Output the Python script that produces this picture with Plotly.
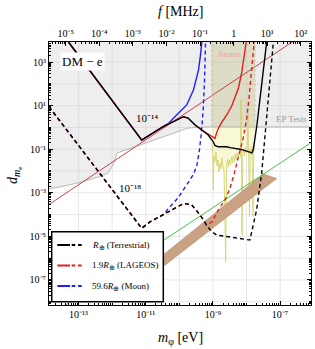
import numpy as np
import plotly.graph_objects as go

# ---------------- data (log10 values) ----------------
H_EV_PER_MHZ = 4.135667e-9          # eV per MHz  (E = h f)
LOG_F_SHIFT = -np.log10(H_EV_PER_MHZ)

X_RANGE = [-13.88, -6.08]           # log10 m_phi [eV]
Y_RANGE = [-8.15, 3.92]             # log10 d_me
TOP = 4.5

# R_earth (Terrestrial), 1e-14 solid
terr_solid_lm = [-13.30, -11.12, -10.49, -10.13, -9.98, -9.88, -9.74, -9.53, -9.33, -9.14, -8.99, -8.94,
                 -8.84, -8.59, -8.49, -8.19, -7.95, -7.84, -7.80, -7.75, -7.69, -7.62, -7.55, -7.47, -7.40]
terr_solid_ld = [3.92, -0.58, 0.03, 0.31, 0.45, 0.49, 0.43, 0.11, -0.12, -0.35, -0.66, -0.83,
                 -0.89, -0.89, -0.93, -1.00, -1.11, -1.17, -1.04, -0.58, 0.11, 1.03, 1.94, 3.00, 3.92]
# 1.9 R_earth (LAGEOS) solid
lag_solid_lm = [-13.30, -11.12, -10.49, -10.13, -9.98, -9.88, -9.74, -9.53, -9.33, -9.18, -9.06, -8.97,
                -8.94, -8.89, -8.84, -8.73, -8.59, -8.44, -8.34, -8.24, -8.14, -8.07, -8.01]
lag_solid_ld = [3.92, -0.58, 0.03, 0.31, 0.45, 0.49, 0.43, 0.11, -0.12, -0.28, -0.39, -0.49,
                -0.50, -0.26, -0.05, 0.25, 0.57, 0.98, 1.39, 1.81, 2.54, 3.23, 3.92]
# 59.6 R_earth (Moon) solid
moon_solid_lm = [-13.30, -11.12, -10.49, -10.33, -10.08, -9.78, -9.58, -9.49, -9.43, -9.37, -9.33]
moon_solid_ld = [3.92, -0.58, 0.04, 0.17, 0.57, 1.03, 1.72, 2.27, 2.63, 3.32, 3.92]

# 1e-18 dashed
terr_dash_lm = [-13.88, -11.12, -10.87, -10.49, -10.13, -9.98, -9.88, -9.80, -9.63, -9.38, -9.24, -9.19,
                -9.04, -8.89, -8.49, -7.90, -7.80, -7.70, -7.55, -7.45, -7.33, -7.20]
terr_dash_ld = [0.95, -4.63, -4.33, -4.00, -3.70, -3.56, -3.50, -3.50, -3.56, -4.02, -4.40, -4.48,
                -4.78, -4.94, -5.03, -5.17, -4.48, -3.79, -2.11, -0.35, 1.72, 3.92]
lag_dash_lm = [-13.88, -11.12, -10.87, -10.49, -10.13, -9.98, -9.88, -9.80, -9.63, -9.38, -9.24, -9.19,
               -9.03, -8.84, -8.64, -8.49, -8.37, -8.24, -8.10, -8.00, -7.93, -7.85, -7.77]
lag_dash_ld = [0.95, -4.63, -4.33, -4.00, -3.70, -3.56, -3.50, -3.50, -3.56, -4.02, -4.40, -4.48,
               -4.34, -3.79, -3.33, -2.78, -2.14, -1.40, -0.49, 0.34, 1.26, 2.63, 3.92]
moon_dash_lm = [-13.88, -11.12, -10.87, -10.49, -10.28, -10.04, -9.88, -9.71, -9.59, -9.48, -9.41, -9.35,
                -9.29, -9.25, -9.22]
moon_dash_ld = [0.95, -4.63, -4.33, -4.02, -3.64, -3.24, -2.87, -2.50, -2.18, -1.77, -1.13, -0.35,
                0.80, 2.17, 3.92]

# EP tests boundary (grey excluded region above)
ep_lm = [-13.88, -13.01, -12.42, -12.12, -11.97, -11.85, -11.77, -10.13, -9.74, -9.24, -6.08]
ep_ld = [-2.83, -2.55, -2.28, -2.09, -1.72, -1.17, -1.13, -0.26, -0.03, 0.02, 0.02]

# Atom-clock band (frequency edges in MHz) and its noisy bound
atom_f_mhz = [0.222, 4.33]
atom_lm = [-9.04, -9.01, -8.99, -8.97, -8.94, -8.91, -8.88, -8.85, -8.82, -8.79, -8.76, -8.73, -8.70, -8.67,
           -8.62, -8.59, -8.56, -8.54, -8.51, -8.48, -8.45, -8.42, -8.39, -8.36, -8.33, -8.30, -8.27, -8.24,
           -8.21, -8.18, -8.164, -8.149, -8.134, -8.113, -8.089, -8.060, -8.030, -8.000, -7.976, -7.955,
           -7.935, -7.911, -7.887, -7.860, -7.836, -7.807, -7.783, -7.762, -7.747]
atom_ld = [-0.72, -1.04, -2.87, -1.31, -1.59, -1.13, -1.77, -1.50, -2.05, -1.63, -1.91, -1.40, -1.82, -2.00,
           -6.17, -1.72, -1.45, -1.82, -1.50, -1.72, -1.36, -1.63, -1.31, -1.59, -1.22, -1.50, -1.17, -1.40,
           -1.13, -1.36, 1.26, -1.13, -4.94, -1.22, -0.99, -1.31, -0.90, -1.17, -1.04, 0.66,
           -1.13, -4.11, -0.99, -1.27, -0.90, -4.06, -1.04, -0.85, -0.62]

# brown band (upper edge, then lower edge)
brown_up_lm = [-10.90, -7.50]
brown_up_ld = [-6.37, -2.14]
brown_lo_lm = [-7.10, -10.90]
brown_lo_ld = [-2.34, -6.89]

# straight power-law lines: log d = slope*log m + intercept
red_line = dict(lm=[-13.88, -6.08], slope=1.03, icpt=10.76)
green_line = dict(lm=[-13.88, -6.08], slope=1.02, icpt=5.50)

# tick labels
y_tick_exp = [3, 1, -1, -3, -5, -7]
y_grid_exp = list(range(-8, 4))
x_tick_exp = [-13, -11, -9, -7]
x_grid_exp = list(range(-13, -6))
f_tick_exp = list(range(-5, 3))

SUB9 = '<span style="font-size:6.5px;baseline-shift:-2px">⊕</span>'
legend_labels = ["<i>R</i>" + SUB9 + " (Terrestrial)",
                 "1.9<i>R</i>" + SUB9 + " (LAGEOS)",
                 "59.6<i>R</i>" + SUB9 + " (Moon)"]
legend_colors = ["#000000", "#e61e1e", "#1f1fff"]

# ---------------- figure ----------------
P = lambda a: 10 ** np.asarray(a, dtype=float)
FONT = "Liberation Serif"
BLACK, RED, BLUE = legend_colors
DASH = "4px,3px"
GRID = "#dedede"

fig = go.Figure()

# grid lines at every decade (drawn below the data)
for k in x_grid_exp:
    fig.add_shape(type="line", xref="x", yref="paper", x0=10.0 ** k, x1=10.0 ** k, y0=0, y1=1,
                  line=dict(color=GRID, width=0.7), layer="below")
for k in y_grid_exp:
    fig.add_shape(type="line", xref="paper", yref="y", x0=0, x1=1, y0=10.0 ** k, y1=10.0 ** k,
                  line=dict(color=GRID, width=0.7), layer="below")

# grey excluded region (EP tests)
fig.add_trace(go.Scatter(
    x=P(ep_lm + [ep_lm[-1], ep_lm[0]]), y=P(ep_ld + [TOP, TOP]),
    fill="toself", fillcolor="rgba(200,200,200,0.30)", line=dict(width=0), mode="lines",
    hoverinfo="skip"))

a_lo = np.log10(atom_f_mhz[0] * H_EV_PER_MHZ)
a_hi = np.log10(atom_f_mhz[1] * H_EV_PER_MHZ)
ep_at_band = ep_ld[-1]
# band above EP boundary
fig.add_trace(go.Scatter(
    x=P([a_lo, a_hi, a_hi, a_lo]), y=P([ep_at_band, ep_at_band, TOP, TOP]),
    fill="toself", fillcolor="rgba(180,180,110,0.30)", line=dict(width=0), mode="lines",
    hoverinfo="skip"))
# band between noisy bound and EP boundary
fig.add_trace(go.Scatter(
    x=P(atom_lm + [atom_lm[-1], atom_lm[0]]), y=P(atom_ld + [ep_at_band, ep_at_band]),
    fill="toself", fillcolor="rgba(235,235,140,0.35)", line=dict(width=0), mode="lines",
    hoverinfo="skip"))

# EP boundary line
fig.add_trace(go.Scatter(x=P(ep_lm), y=P(ep_ld), mode="lines",
                         line=dict(color="#a8a8a8", width=0.8), hoverinfo="skip"))
# noisy atom line
fig.add_trace(go.Scatter(x=P(atom_lm), y=P(atom_ld), mode="lines",
                         line=dict(color="#cfcf66", width=0.8), hoverinfo="skip"))
# band edges (on the frequency axis)
for fe in atom_f_mhz:
    fig.add_trace(go.Scatter(x=[fe, fe], y=P([ep_at_band, TOP]), mode="lines", xaxis="x2",
                             line=dict(color="#c8c890", width=0.8, dash="3px,2px"), hoverinfo="skip"))

# brown band
fig.add_trace(go.Scatter(
    x=P(brown_up_lm + brown_lo_lm), y=P(brown_up_ld + brown_lo_ld),
    fill="toself", fillcolor="#c9a283", line=dict(color="#b89070", width=0.6), mode="lines",
    hoverinfo="skip"))

# straight lines
for ln, col in ((green_line, "#33bb33"), (red_line, "#c43030")):
    lm = np.array(ln["lm"])
    fig.add_trace(go.Scatter(x=P(lm), y=P(ln["slope"] * lm + ln["icpt"]), mode="lines",
                             line=dict(color=col, width=0.9), hoverinfo="skip"))

# dashed curves
for lm, ld, col in ((moon_dash_lm, moon_dash_ld, BLUE), (lag_dash_lm, lag_dash_ld, RED),
                    (terr_dash_lm, terr_dash_ld, BLACK)):
    fig.add_trace(go.Scatter(x=P(lm), y=P(ld), mode="lines",
                             line=dict(color=col, width=1.4, dash=DASH), hoverinfo="skip"))
# solid curves
for lm, ld, col in ((moon_solid_lm, moon_solid_ld, BLUE), (lag_solid_lm, lag_solid_ld, RED),
                    (terr_solid_lm, terr_solid_ld, BLACK)):
    fig.add_trace(go.Scatter(x=P(lm), y=P(ld), mode="lines",
                             line=dict(color=col, width=1.4), hoverinfo="skip"))

# ---------------- axes ----------------
SUP = str.maketrans("-0123456789", "⁻⁰¹²³⁴⁵⁶⁷⁸⁹")

def sup(k):
    if k == 0:
        return "1"
    return "10" + str(k).translate(SUP)

def minors(lo, hi, labelled):
    vals = [m * 10.0 ** k for k in range(lo, hi) for m in range(2, 10)]
    vals += [10.0 ** k for k in range(lo, hi) if k not in labelled]
    return sorted(vals)

tickfont = dict(family=FONT, size=10, color="black")
common = dict(type="log", ticks="inside", ticklen=4, tickwidth=0.8, tickcolor="black",
              showline=True, linecolor="black", linewidth=1, zeroline=False, tickfont=tickfont,
              showgrid=False)

fig.update_layout(
    width=315, height=349, autosize=False,
    margin=dict(l=49, r=4, t=42, b=44),
    paper_bgcolor="white", plot_bgcolor="white", showlegend=False,
    font=dict(family=FONT, size=9, color="black"),
    xaxis=dict(range=X_RANGE, tickvals=[10.0 ** k for k in x_tick_exp],
               ticktext=[sup(k) for k in x_tick_exp], mirror=False,
               minor=dict(tickvals=minors(-14, -5, x_tick_exp), ticks="inside", ticklen=2,
                          tickcolor="black", showgrid=False),
               **common),
    xaxis2=dict(overlaying="x", side="top", anchor="y",
                range=[X_RANGE[0] + LOG_F_SHIFT, X_RANGE[1] + LOG_F_SHIFT],
                tickvals=[10.0 ** k for k in f_tick_exp], ticktext=[sup(k) for k in f_tick_exp],
                minor=dict(tickvals=minors(-6, 3, f_tick_exp), ticks="inside", ticklen=2,
                           tickcolor="black", showgrid=False),
                **common),
    yaxis=dict(range=Y_RANGE, tickvals=[10.0 ** k for k in y_tick_exp],
               ticktext=[sup(k) for k in y_tick_exp], mirror="ticks",
               minor=dict(tickvals=minors(-9, 4, y_tick_exp), ticks="inside", ticklen=2,
                          tickcolor="black", showgrid=False),
               **common),
)

# ---------------- text ----------------
def px(xp, yp):
    return (xp - 49) / 262.0, (305 - yp) / 263.0

def note(text, xp, yp, size, color="black", xanchor="center", **kw):
    x, y = px(xp, yp)
    fig.add_annotation(x=x, y=y, xref="paper", yref="paper", text=text, showarrow=False,
                       xanchor=xanchor, yanchor="middle",
                       font=dict(family=FONT, size=size, color=color), **kw)

note("<i>f</i> [MHz]", 181, 12, 14)
note('<i>m</i><span style="font-size:10px;baseline-shift:-3px">φ</span> [eV]', 180, 338, 14)
note('<i>d</i><span style="font-size:10px;baseline-shift:-3px"><i>m</i></span>'
     '<span style="font-size:7px;baseline-shift:-5px">e</span>', 14, 176, 14, textangle=-90)
note("DM − e", 82, 61.5, 13, bgcolor="white", borderpad=1)
note("10⁻¹⁴", 147, 118, 11)
note("10⁻¹⁸", 130, 188, 11)
note("Atoms", 229.5, 53.5, 9, color="#f0a0a0")
note("EP Tests", 291, 119, 9, color="#999999")

# ---------------- legend (drawn) ----------------
x0, y0 = px(51.7, 301.7)
x1, y1 = px(163.3, 231.7)
fig.add_shape(type="rect", xref="paper", yref="paper", x0=x0, y0=y0, x1=x1, y1=y1,
              fillcolor="white", line=dict(color="black", width=1.5), layer="above")
for i, (lab, col) in enumerate(zip(legend_labels, legend_colors)):
    yp = 245 + i * 20.5
    _, yy = px(0, yp)
    for a, b in ((57.3, 70.0), (71.7, 75.3), (78.0, 81.7)):
        xa, _ = px(a, 0)
        xb, _ = px(b, 0)
        fig.add_shape(type="line", xref="paper", yref="paper", x0=xa, x1=xb, y0=yy, y1=yy,
                      line=dict(color=col, width=2), layer="above")
    note(lab, 90, yp, 9, xanchor="left")

fig.write_html("out.html", config={"displayModeBar": False},
               post_script="document.body.style.margin='0px';")
